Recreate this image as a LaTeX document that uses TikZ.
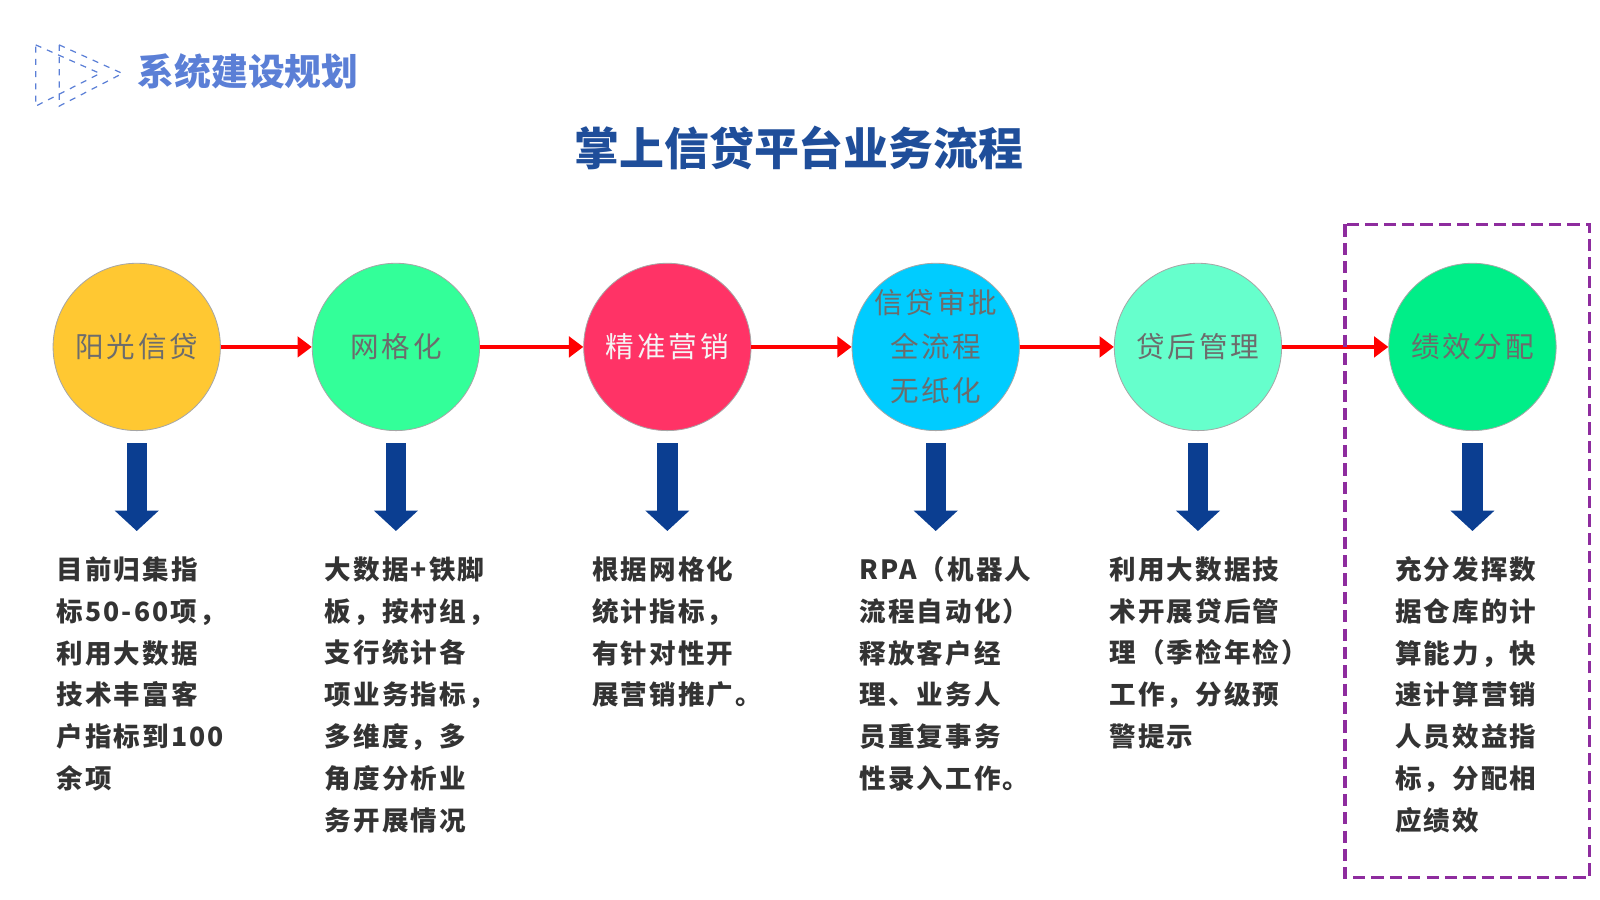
\documentclass[tikz,border=0pt]{standalone}
\usepackage{fontspec}
\newfontfamily\cjk{Noto Sans CJK SC}
\newfontfamily\cjksp{Noto Sans CJK SC}[LetterSpace=8]
\newfontfamily\cjkst{Noto Sans CJK SC}[LetterSpace=10]
\usetikzlibrary{arrows.meta,positioning}
\definecolor{hdblue}{HTML}{5B7FD6}
\definecolor{ttblue}{HTML}{1F4E9A}
\definecolor{arblue}{HTML}{0B3E91}
\definecolor{boxpur}{HTML}{8E2C9E}
\tikzset{stage/.style={circle,draw=gray!70,minimum size=82pt,inner sep=0pt,font=\cjkst\fontsize{14}{21.5}\selectfont,text=gray!85!black,align=center}}
\tikzset{flow/.style={draw=red,line width=2pt,-{Triangle[length=7pt,width=10pt]}}}
\tikzset{godown/.style={draw=arblue,line width=10pt,-{Triangle[length=10pt,width=21pt]}}}
\tikzset{desc/.style={anchor=north west,align=left,inner sep=0pt,font=\cjksp\bfseries\fontsize{13}{20.5}\selectfont,text=black!80}}
\begin{document}
\begin{tikzpicture}[x=0.5pt,y=-0.5pt]
% header
\draw[hdblue,dashed,line width=0.6pt] (35,44)--(98,72)--(35,104)--cycle;
\draw[hdblue,dashed,line width=0.6pt] (58,44)--(120,72)--(58,104)--cycle;
\node[anchor=west,text=hdblue,font=\cjk\bfseries\fontsize{18}{18}\selectfont] (head) at (128,70) {系统建设规划};
\node[text=ttblue,font=\cjk\bfseries\fontsize{22}{22}\selectfont] (title) at (783,145) {掌上信贷平台业务流程};
% stages
\node[stage,fill={rgb,255:red,255;green,200;blue,50}] (s1) at (134,340) {阳光信贷};
\node[stage,fill={rgb,255:red,51;green,255;blue,153}] (s2) at (388,340) {网格化};
\node[stage,fill={rgb,255:red,255;green,51;blue,102},text=white!92!gray] (s3) at (654,340) {精准营销};
\node[stage,fill={rgb,255:red,0;green,204;blue,255}] (s4) at (917,340) {信贷审批\\全流程\\无纸化};
\node[stage,fill={rgb,255:red,102;green,255;blue,204}] (s5) at (1174,340) {贷后管理};
\node[stage,fill={rgb,255:red,0;green,238;blue,136}] (s6) at (1443,340) {绩效分配};
\foreach \a/\b in {s1/s2,s2/s3,s3/s4,s4/s5,s5/s6}
  \draw[flow] (\a) -- (\b);
\foreach \s in {s1,s2,s3,s4,s5,s6}
  \draw[godown] ([yshift=-6pt]\s.south) -- ++(0,86);
% descriptions
\node[desc] (d1) at (55,545) {目前归集指\\标50-60项，\\利用大数据\\技术丰富客\\户指标到100\\余项};
\node[desc] (d2) at (318,545) {大数据+铁脚\\板，按村组，\\支行统计各\\项业务指标，\\多维度，多\\角度分析业\\务开展情况};
\node[desc] (d3) at (580,545) {根据网格化\\统计指标，\\有针对性开\\展营销推广。};
\node[desc] (d4) at (842,545) {RPA（机器人\\流程自动化）\\释放客户经\\理、业务人\\员重复事务\\性录入工作。};
\node[desc] (d5) at (1087,545) {利用大数据技\\术开展贷后管\\理（季检年检）\\工作，分级预\\警提示};
\node[desc] (d6) at (1367,545) {充分发挥数\\据仓库的计\\算能力，快\\速计算营销\\人员效益指\\标，分配相\\应绩效};
% highlight
\draw[boxpur,line width=1.6pt,dash pattern=on 6pt off 3pt] (1318,220) rectangle (1558,860);
\pgfresetboundingbox
\useasboundingbox (0,0) rectangle (1568,882);
\end{tikzpicture}
\end{document}
